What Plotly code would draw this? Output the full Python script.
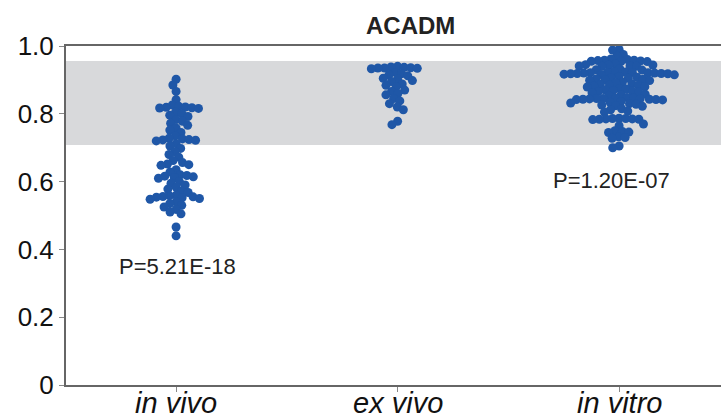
import math
import plotly.graph_objects as go

categories = ["in vivo", "ex vivo", "in vitro"]

in_vivo = [0.902, 0.885, 0.866, 0.842,
           0.826, 0.822, 0.820, 0.819, 0.818, 0.817, 0.816,
           0.805, 0.800, 0.796, 0.792,
           0.783, 0.778, 0.772, 0.766,
           0.758, 0.752, 0.745,
           0.735, 0.728, 0.726, 0.724, 0.723, 0.722, 0.720,
           0.712, 0.705, 0.698,
           0.688, 0.680, 0.672,
           0.662, 0.656, 0.652, 0.650, 0.648,
           0.635, 0.628,
           0.620, 0.618, 0.616, 0.614, 0.612, 0.610,
           0.600, 0.595, 0.590,
           0.583, 0.578, 0.572, 0.568,
           0.560, 0.558, 0.556, 0.555, 0.554, 0.552, 0.550, 0.548,
           0.540, 0.535, 0.530, 0.525,
           0.518, 0.510, 0.505,
           0.466, 0.440]

ex_vivo = [0.940, 0.938, 0.937, 0.936, 0.935, 0.935, 0.934, 0.933,
           0.922, 0.918, 0.915, 0.912,
           0.905, 0.902, 0.898, 0.895,
           0.888, 0.884, 0.880,
           0.870, 0.866, 0.860, 0.856,
           0.845, 0.838, 0.830,
           0.820, 0.812,
           0.778, 0.768]

in_vitro = [0.990, 0.988,
            0.975, 0.970,
            0.962, 0.960, 0.958, 0.958, 0.957, 0.956, 0.955, 0.955, 0.954,
            0.946, 0.945, 0.944, 0.943, 0.942, 0.941, 0.940, 0.940,
            0.932, 0.930, 0.929,
            0.924, 0.923, 0.922, 0.922, 0.921, 0.921, 0.920, 0.920, 0.919, 0.919,
            0.918, 0.918, 0.917, 0.916, 0.915,
            0.910, 0.908, 0.906, 0.905, 0.903, 0.902, 0.900, 0.899, 0.898,
            0.893, 0.891, 0.889, 0.887, 0.885, 0.884, 0.882, 0.880, 0.879,
            0.875, 0.873, 0.871, 0.869, 0.867, 0.866, 0.864, 0.862,
            0.858, 0.856, 0.854,
            0.848, 0.847, 0.846, 0.845, 0.845, 0.844, 0.844, 0.843, 0.843,
            0.842, 0.842, 0.841,
            0.836, 0.834, 0.832, 0.830, 0.828, 0.826, 0.824, 0.822,
            0.815, 0.812, 0.808, 0.805,
            0.787, 0.786, 0.786, 0.785, 0.785, 0.784, 0.784, 0.783,
            0.770, 0.765,
            0.750, 0.748, 0.746, 0.745,
            0.732, 0.730, 0.728,
            0.705, 0.700]

groups = [in_vivo, ex_vivo, in_vitro]
p_labels = ["P=5.21E-18", "", "P=1.20E-07"]
p_label_x = [0.005, None, 1.965]
p_label_y = [0.351, None, 0.603]

band_low, band_high = 0.708, 0.956
y_ticks = [0, 0.2, 0.4, 0.6, 0.8, 1.0]
y_tick_text = ["0", "0.2", "0.4", "0.6", "0.8", "1.0"]

W, H = 721, 418
ML, MR, MT, MB = 66, 0, 46, 33
x_range = [-0.497, 2.46]
y_range = [0, 1.0]
px_x = (W - ML - MR) / (x_range[1] - x_range[0])
px_y = (H - MT - MB) / (y_range[1] - y_range[0])
D = 6.6  # min distance between centres in px


def swarm(values):
    placed = []
    xs = []
    for v in values:
        yp = v * px_y
        intervals = []
        for (xq, yq) in placed:
            dy = abs(yq - yp)
            if dy < D:
                w = math.sqrt(D * D - dy * dy)
                intervals.append((xq - w, xq + w))
        cands = [0.0] + [a for a, b in intervals] + [b for a, b in intervals]
        cands.sort(key=lambda c: (abs(c), c))
        chosen = 0.0
        for c in cands:
            if all(not (a + 1e-9 < c < b - 1e-9) for a, b in intervals):
                chosen = c
                break
        placed.append((chosen, yp))
        xs.append(chosen / px_x)
    return xs


fig = go.Figure()
for i, vals in enumerate(groups):
    offs = swarm(vals)
    fig.add_trace(go.Scatter(
        x=[i + o for o in offs], y=vals, mode="markers",
        marker=dict(size=9, color="#1f57a7", line=dict(width=0)),
        cliponaxis=False, showlegend=False, hoverinfo="y"))

fig.add_shape(type="rect", xref="paper", yref="y", x0=0, x1=1,
              y0=band_low, y1=band_high, fillcolor="#d8d9db",
              line=dict(width=0), layer="below")

for i, t in enumerate(p_labels):
    if t:
        fig.add_annotation(x=p_label_x[i], y=p_label_y[i], text=t, showarrow=False,
                           font=dict(family="Liberation Sans", size=22, color="#222222"))

# category labels (italic) placed just under the axis
for i, c in enumerate(categories):
    fig.add_annotation(x=i, xref="x", y=0, yref="paper", yanchor="top",
                       yshift=-1, text="<i>" + c + "</i>", showarrow=False,
                       borderpad=0,
                       font=dict(family="Liberation Sans", size=29, color="#111111"))

fig.add_annotation(x=(410 - ML) / (W - ML - MR), xref="paper", y=1, yref="paper",
                   yanchor="middle", yshift=21, text="<b>ACADM</b>", showarrow=False,
                   font=dict(family="Liberation Sans", size=24, color="#222222"))

fig.update_layout(
    width=W, height=H,
    margin=dict(l=ML, r=MR, t=MT, b=MB, autoexpand=False),
    paper_bgcolor="white", plot_bgcolor="white",
    xaxis=dict(range=x_range, tickvals=[0, 1, 2], showticklabels=False,
               automargin=False,
               showgrid=False, zeroline=False, showline=True, mirror=True,
               linecolor="#666666", linewidth=2, ticks="outside", ticklen=5,
               tickcolor="#888888"),
    yaxis=dict(range=y_range, tickvals=y_ticks, ticktext=y_tick_text,
               automargin=False,
               showgrid=False, zeroline=False, showline=True,
               linecolor="#666666", linewidth=2, ticks="outside", ticklen=5,
               tickcolor="#888888",
               tickfont=dict(family="Liberation Sans", size=26, color="#111111")),
)

fig.write_html("out.html")
